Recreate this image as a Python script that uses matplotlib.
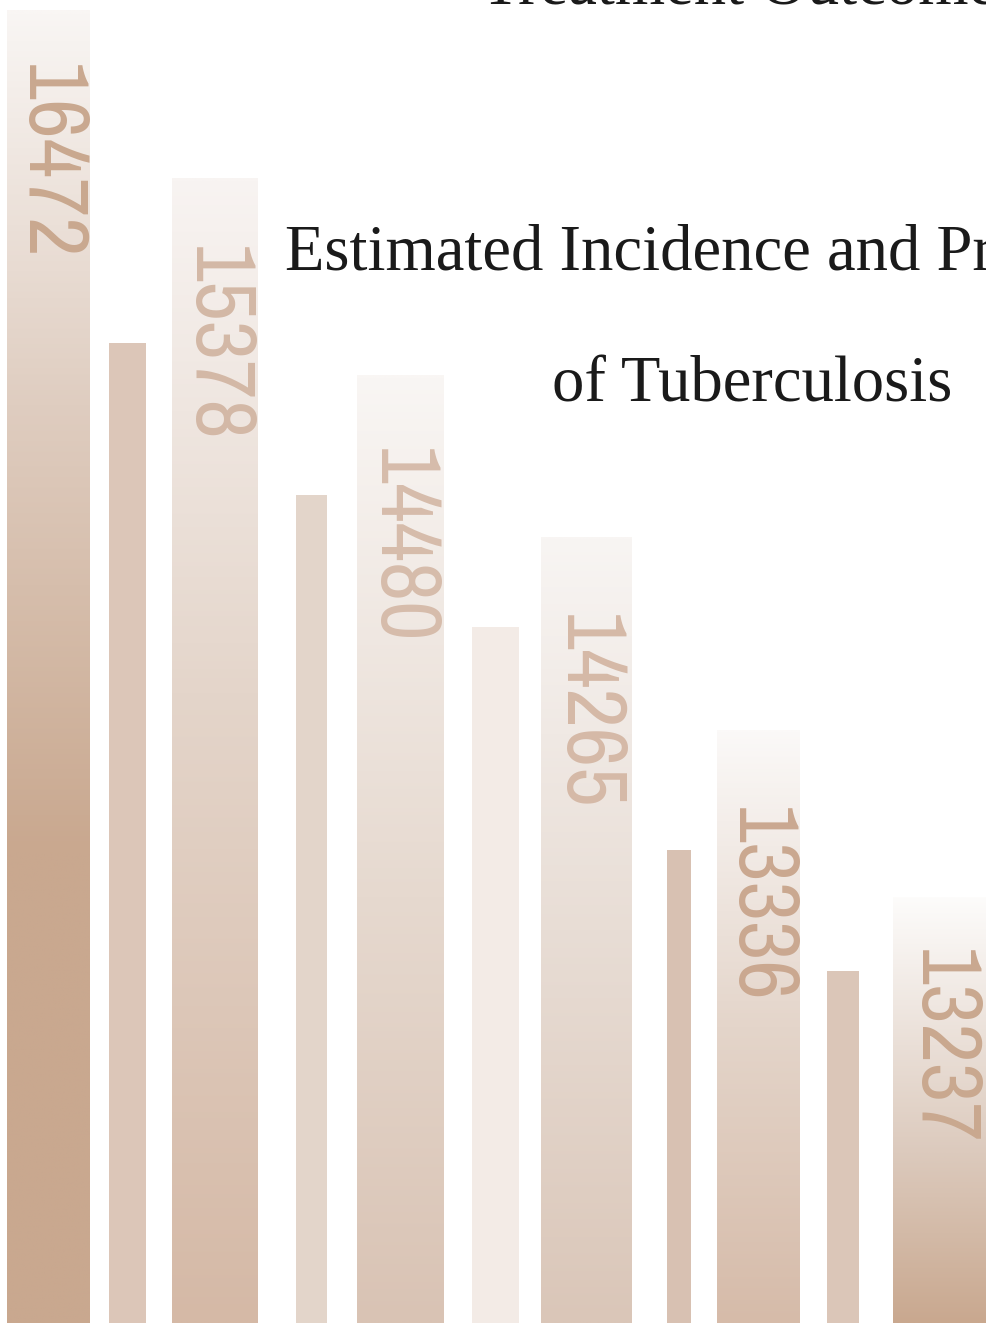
import numpy as np
import matplotlib
matplotlib.use("Agg")
import matplotlib.pyplot as plt
from matplotlib import font_manager
from matplotlib.colors import LinearSegmentedColormap

# values printed on the wide bars
wide_labels = [16472, 15378, 14480, 14265, 13336, 13237]
# bar heights (decorative, not proportional to the labels)
wide_heights = [1313, 1145, 948, 786, 593, 426]
narrow_heights = [980, 828, 696, 473, 352]

title_lines = ["Treatment Outcomes", "Estimated Incidence and Prevalence", "of Tuberculosis"]

# layout
wide_left = [7, 172, 357, 541, 717, 893]
wide_width = [83, 86, 87, 91, 83, 97]
narrow_left = [109, 296, 472, 667, 827]
narrow_width = [37, 31, 47, 24, 32]
label_offset = [54, 68, 73, 77, 77, 52]

# styles
wide_stops = [
    [(0.0, '#c9a88f'), (0.36, '#c9a88f'), (0.70, '#dfcdc0'), (1.0, '#f9f6f4')],
    [(0.0, '#d5b9a6'), (0.55, '#e4d5ca'), (1.0, '#f8f4f2')],
    [(0.0, '#d9c3b4'), (0.45, '#e6d9cf'), (1.0, '#f9f6f4')],
    [(0.0, '#dac6b8'), (0.5, '#e8ddd5'), (1.0, '#f8f5f3')],
    [(0.0, '#d6bba9'), (0.5, '#e4d5ca'), (1.0, '#fbf9f8')],
    [(0.0, '#c9a88f'), (0.4, '#dccabd'), (1.0, '#fdfcfb')],
]
narrow_colors = ['#dcc6b8', '#e3d5ca', '#f3ebe6', '#d8c1b2', '#dbc6b8']
label_colors = ['#c9a88f', '#d3b8a6', '#d6bcab', '#d5b9a7', '#caa890', '#c9a88f']


def pick_font(candidates):
    installed = {f.name for f in font_manager.fontManager.ttflist}
    for name in candidates:
        if name in installed:
            return name
    return 'DejaVu Sans'


label_font = pick_font(['Archivo Narrow', 'Liberation Sans Narrow', 'Liberation Sans'])
label_size = 62 if label_font != 'Liberation Sans' else 54
title_font = pick_font(['Liberation Serif', 'DejaVu Serif'])

fig = plt.figure(figsize=(9.86, 13.23), dpi=100)
ax = fig.add_axes([0, 0, 1, 1])

ax.bar(narrow_left, narrow_heights, width=narrow_width, align='edge',
       color=narrow_colors, linewidth=0, zorder=2)

bars = ax.bar(wide_left, wide_heights, width=wide_width, align='edge',
              color='none', linewidth=0, zorder=2)

grad = np.linspace(0, 1, 512).reshape(-1, 1)
for i, rect in enumerate(bars):
    cmap = LinearSegmentedColormap.from_list(f'bar{i}', wide_stops[i])
    x0 = rect.get_x()
    h = rect.get_height()
    img = ax.imshow(grad, cmap=cmap, origin='lower', aspect='auto',
                    extent=(x0, x0 + rect.get_width(), 0, h), zorder=1)
    img.set_clip_path(rect)
    ax.text(x0 + rect.get_width() / 2, h - label_offset[i], str(wide_labels[i]),
            rotation=-90, ha='center', va='top', fontsize=label_size,
            family=label_font, color=label_colors[i], zorder=3)

ax.set_xlim(0, 986)
ax.set_ylim(0, 1323)
ax.axis('off')

for y, line in zip([4, 270, 402], title_lines):
    ax.text(752, 1323 - y, line, ha='center', va='baseline',
            fontsize=46.5, family=title_font, color='#1a1a1a', zorder=4)

fig.savefig('out.png', dpi=100, facecolor='white')
